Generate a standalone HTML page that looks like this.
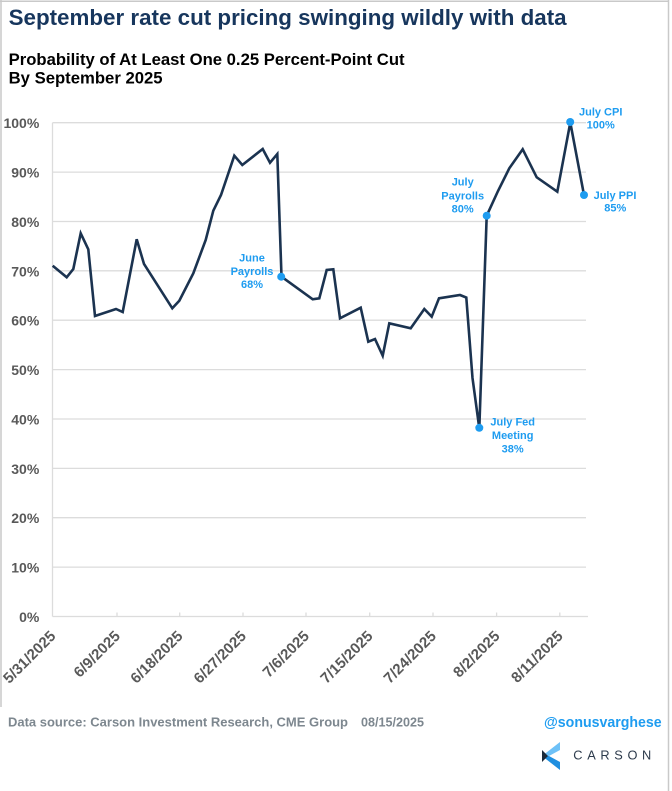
<!DOCTYPE html>
<html>
<head>
<meta charset="utf-8">
<style>
  html, body { margin: 0; padding: 0; background: #ffffff; }
  body { width: 672px; height: 791px; overflow: hidden; }
  svg { display: block; }
  text { font-family: "Liberation Sans", Arial, sans-serif; }
</style>
</head>
<body>
<svg width="672" height="791" viewBox="0 0 672 791" xmlns="http://www.w3.org/2000/svg">
  <rect x="0" y="0" width="672" height="791" fill="#ffffff"/>
  <!-- frame -->
  <line x1="0" y1="1.2" x2="668.5" y2="1.2" stroke="#c9c9c9" stroke-width="1.5"/>
  <line x1="668.5" y1="0" x2="668.5" y2="791" stroke="#c9c9c9" stroke-width="1.5"/>
  <line x1="1" y1="0" x2="1" y2="707" stroke="#c9c9c9" stroke-width="1.5"/>

  <!-- titles -->
  <text x="8.6" y="25" font-size="22" font-weight="bold" fill="#17365d" textLength="558" lengthAdjust="spacingAndGlyphs">September rate cut pricing swinging wildly with data</text>
  <text x="8.6" y="65" font-size="16.6" font-weight="bold" fill="#000000" textLength="396" lengthAdjust="spacingAndGlyphs">Probability of At Least One 0.25 Percent-Point Cut</text>
  <text x="8.6" y="83.5" font-size="16.6" font-weight="bold" fill="#000000" textLength="154" lengthAdjust="spacingAndGlyphs">By September 2025</text>

  <!-- gridlines -->
  <g stroke="#dcdcdc" stroke-width="1.3">
    <line x1="52.5" y1="122.7" x2="586" y2="122.7"/>
    <line x1="52.5" y1="172.1" x2="586" y2="172.1"/>
    <line x1="52.5" y1="221.5" x2="586" y2="221.5"/>
    <line x1="52.5" y1="270.8" x2="586" y2="270.8"/>
    <line x1="52.5" y1="320.2" x2="586" y2="320.2"/>
    <line x1="52.5" y1="369.6" x2="586" y2="369.6"/>
    <line x1="52.5" y1="419.0" x2="586" y2="419.0"/>
    <line x1="52.5" y1="468.4" x2="586" y2="468.4"/>
    <line x1="52.5" y1="517.7" x2="586" y2="517.7"/>
    <line x1="52.5" y1="567.1" x2="586" y2="567.1"/>
    <line x1="52.5" y1="616.5" x2="588" y2="616.5"/>
    <line x1="52.5" y1="122.7" x2="52.5" y2="616.5"/>
    <!-- ticks -->
    <line x1="117" y1="612.5" x2="117" y2="616.5"/>
    <line x1="179.7" y1="612.5" x2="179.7" y2="616.5"/>
    <line x1="243" y1="612.5" x2="243" y2="616.5"/>
    <line x1="306" y1="612.5" x2="306" y2="616.5"/>
    <line x1="369.7" y1="612.5" x2="369.7" y2="616.5"/>
    <line x1="433" y1="612.5" x2="433" y2="616.5"/>
    <line x1="496.6" y1="612.5" x2="496.6" y2="616.5"/>
    <line x1="559.8" y1="612.5" x2="559.8" y2="616.5"/>
  </g>

  <!-- y labels -->
  <g font-size="14" font-weight="bold" fill="#595959" text-anchor="end">
    <text x="39.3" y="128.2">100%</text>
    <text x="39.3" y="177.6">90%</text>
    <text x="39.3" y="227.0">80%</text>
    <text x="39.3" y="276.3">70%</text>
    <text x="39.3" y="325.7">60%</text>
    <text x="39.3" y="375.1">50%</text>
    <text x="39.3" y="424.5">40%</text>
    <text x="39.3" y="473.9">30%</text>
    <text x="39.3" y="523.2">20%</text>
    <text x="39.3" y="572.6">10%</text>
    <text x="39.3" y="622.0">0%</text>
  </g>

  <!-- x labels -->
  <g font-size="15" font-weight="bold" fill="#595959" text-anchor="end">
    <text transform="translate(56.5,637) rotate(-45)">5/31/2025</text>
    <text transform="translate(121,637) rotate(-45)">6/9/2025</text>
    <text transform="translate(183.7,637) rotate(-45)">6/18/2025</text>
    <text transform="translate(247,637) rotate(-45)">6/27/2025</text>
    <text transform="translate(310,637) rotate(-45)">7/6/2025</text>
    <text transform="translate(373.7,637) rotate(-45)">7/15/2025</text>
    <text transform="translate(437,637) rotate(-45)">7/24/2025</text>
    <text transform="translate(500.6,637) rotate(-45)">8/2/2025</text>
    <text transform="translate(563.8,637) rotate(-45)">8/11/2025</text>
  </g>

  <!-- data line -->
  <polyline fill="none" stroke="#1b3350" stroke-width="2.6" stroke-linejoin="miter" stroke-miterlimit="4"
    points="52.7,265.7 66.7,277.3 73.3,269 80.7,233.3 88.3,249.3 95,316 116,309 122.7,312 136.7,239.3 144,264 172.3,308.3 179.3,300.7 193.3,273.3 205.7,240 213.3,210.7 221,195 234.3,155.7 242.3,165 262.7,149 270,162.7 277.3,154 281.5,276.7 312.7,299.3 319.3,298.3 326.7,270 333.3,269.3 340,318.3 360.7,307.7 368.3,341.7 375,339 382.7,355.7 389.3,323.3 410.7,328.3 424.3,309 431.7,316.7 439,298.3 460,295 466.3,297.5 472.5,378 479.3,428.3 486.7,215.7 498,191 509.3,168.3 522.7,149.3 536.7,177.3 557.3,191.7 570.3,122.5 584,195"/>

  <!-- dots -->
  <g fill="#1e9cf0">
    <circle cx="281.2" cy="276.7" r="4"/>
    <circle cx="479.3" cy="427.8" r="4"/>
    <circle cx="486.7" cy="215.7" r="4"/>
    <circle cx="570.2" cy="122" r="4"/>
    <circle cx="584" cy="195" r="4"/>
  </g>

  <!-- annotations -->
  <g font-size="11" font-weight="bold" fill="#1e9cf0" text-anchor="middle">
    <text x="252" y="261.7">June</text>
    <text x="252" y="275">Payrolls</text>
    <text x="252" y="288.2">68%</text>

    <text x="512.7" y="425.7">July Fed</text>
    <text x="512.7" y="439">Meeting</text>
    <text x="512.7" y="452.3">38%</text>

    <text x="462.7" y="185.7">July</text>
    <text x="462.7" y="199.5">Payrolls</text>
    <text x="462.7" y="212.3">80%</text>

    <text x="600.7" y="115.7">July CPI</text>
    <text x="600.7" y="128.3">100%</text>

    <text x="615" y="199">July PPI</text>
    <text x="615.3" y="211.7">85%</text>
  </g>

  <!-- footer -->
  <text x="8" y="726.5" font-size="13" font-weight="bold" fill="#7d878f" textLength="340" lengthAdjust="spacingAndGlyphs">Data source: Carson Investment Research, CME Group</text>
  <text x="361" y="726.5" font-size="13" font-weight="bold" fill="#7d878f" textLength="63" lengthAdjust="spacingAndGlyphs">08/15/2025</text>
  <text x="544" y="727" font-size="15" font-weight="bold" fill="#1e9cf0" textLength="117.7" lengthAdjust="spacingAndGlyphs">@sonusvarghese</text>

  <!-- Carson logo -->
  <polygon points="560,742 560,750 549,756 542,756" fill="#6ec1f7"/>
  <polygon points="542,756 549,756 560,762 560,770" fill="#1f8fe0"/>
  <polygon points="542,750 548,756 542,762" fill="#1b2a3a"/>
  <text x="573.3" y="759.5" font-size="12.8" fill="#2d3b4c" textLength="78" lengthAdjust="spacing">CARSON</text>
</svg>
</body>
</html>
